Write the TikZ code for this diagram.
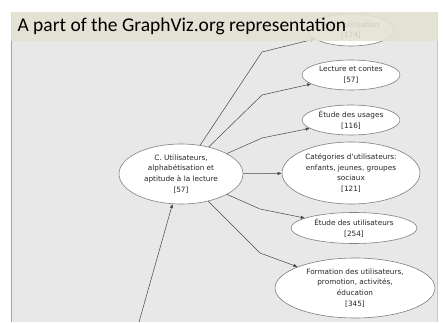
\documentclass[tikz,border=0pt]{standalone}
\usepackage{fontspec}
\setmainfont{Carlito}
\newfontfamily\gvfont{DejaVu Sans}
\usetikzlibrary{shapes,arrows.meta}
\definecolor{gv_panel}{RGB}{232, 232, 232}
\definecolor{gv_band}{RGB}{228, 226, 210}
\definecolor{gv_line}{RGB}{128, 128, 128}
\definecolor{gv_edge}{RGB}{70, 70, 70}
\tikzstyle{gv}=[ellipse,fill=white,draw=gv_line,line width=0.6pt,inner sep=0pt,
  align=center,text=black!85,font=\gvfont\fontsize{7.3}{10.8}\selectfont]
\tikzstyle{edge}=[draw=gv_edge,line width=0.5pt,-{Latex[length=4pt,width=3.4pt]}]

\begin{document}
\begin{tikzpicture}[x=1pt,y=1pt]
    \useasboundingbox (0,0) rectangle (445,322);
    \fill[white] (0,0) rectangle (445,322);
    \fill[gv_panel] (11,0) rectangle (438,310);
    \draw[gray!70,line width=1pt] (11,0) -- (11,310);
    \draw[gray!45,line width=1pt] (437.5,0) -- (437.5,310);
    \node [style=gv,minimum width=86pt,minimum height=32pt] (alpha) at (351,292) {Alphabétisation\\{[174]}};
    \node [style=gv,minimum width=98pt,minimum height=30pt] (lecture) at (351,247) {Lecture et contes\\{[57]}};
    \node [style=gv,minimum width=98pt,minimum height=30pt] (usages) at (351,202) {Étude des usages\\{[116]}};
    \node [style=gv,minimum width=138pt,minimum height=62pt] (categ) at (351,149) {Catégories d'utilisateurs:\\enfants, jeunes, groupes\\sociaux\\{[121]}};
    \node [style=gv,minimum width=126pt,minimum height=31pt] (etudeu) at (354,94) {Étude des utilisateurs\\{[254]}};
    \node [style=gv,minimum width=160pt,minimum height=60pt] (formation) at (355,34) {Formation des utilisateurs,\\promotion, activités,\\éducation\\{[345]}};
    \node [style=gv,minimum width=124pt,minimum height=60pt] (main) at (181,148) {C. Utilisateurs,\\alphabétisation et\\aptitude à la lecture\\{[57]}};
    \coordinate (src) at (139,0);
    \coordinate (b1) at (262,270);
    \coordinate (b2) at (262,227);
    \coordinate (b3) at (262,184);
    \coordinate (b5) at (260,113);
    \coordinate (b6) at (260,69);
    \draw [style=edge] (main) -- (b1) -- (alpha);
    \draw [style=edge] (main) -- (b2) -- (lecture);
    \draw [style=edge] (main) -- (b3) -- (usages);
    \draw [style=edge] (main) -- (categ);
    \draw [style=edge] (main) -- (b5) -- (etudeu);
    \draw [style=edge] (main) -- (b6) -- (formation);
    \draw [style=edge] (src) -- (main);
    % title band over the graph
    \fill[gv_band,fill opacity=0.88] (11,281) rectangle (438,310);
    \node [anchor=west,font=\fontsize{19.5}{22}\selectfont,text=black] (title) at (14,296) {A part of the GraphViz.org representation};
  \end{tikzpicture}
\end{document}
